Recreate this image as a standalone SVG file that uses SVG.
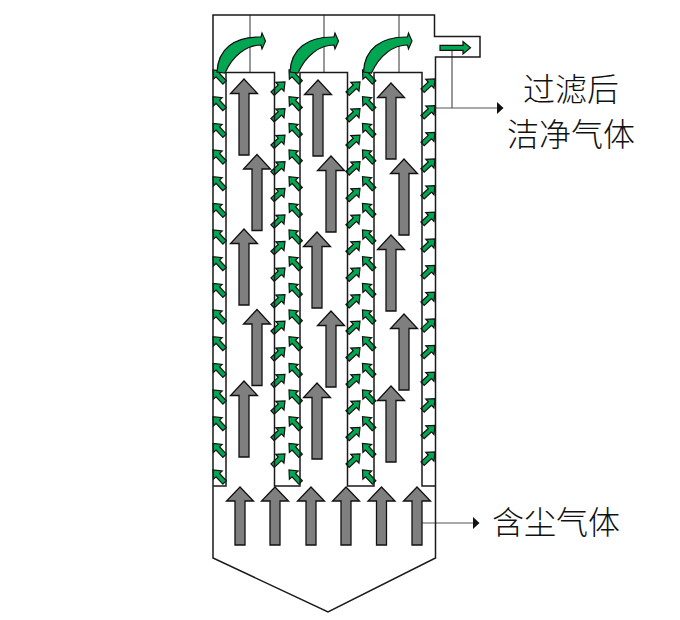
<svg xmlns="http://www.w3.org/2000/svg" xmlns:xlink="http://www.w3.org/1999/xlink" width="680" height="620" viewBox="0 0 680 620">
<style>
.wall{fill:none;stroke:#1a1a1a;stroke-width:1.5}
.thin{fill:none;stroke:#555;stroke-width:1.2}
.gray{fill:#7f7f7f;stroke:#111;stroke-width:1.3;stroke-linejoin:miter}
.green{fill:#00a651;stroke:#111;stroke-width:1.2;stroke-linejoin:miter}
.lbl{font-family:"Noto Sans CJK SC",sans-serif;font-size:32px;font-weight:300;fill:#111}
</style>
<defs>
<polygon id="up" class="gray" points="0,0 13.5,14.5 5,14.5 5,76 -5,76 -5,14.5 -13.5,14.5"/>
<polygon id="in" class="gray" points="0,0 13.5,14 5,14 5,58 -5,58 -5,14 -13.5,14"/>
<polygon id="g" class="green" points="0,-2.4 10,-2.4 10,-6 17,0 10,6 10,2.4 0,2.4"/>
<use id="ul" href="#g" transform="rotate(-133) translate(-17,0)"/>
<use id="ur" href="#g" transform="rotate(-43) translate(-17,0)"/>
<path id="curve" class="green" d="M217,72C218,49 234,36.500 261,37L262,33L265.500,41L262,49L261,45C247,45 233,55 225,73Z"/>
<marker id="tri" markerWidth="8" markerHeight="12" refX="0" refY="6" orient="auto" markerUnits="userSpaceOnUse"><polygon points="0,0 6.500,6 0,12" fill="#111"/></marker>
</defs>
<g id="connectors">
<path class="thin" d="M250,15V72M324,15V72M399,15V72"/>
<path class="thin" d="M452,48V108M435,108H497" marker-end="url(#tri)"/>
<path class="thin" d="M422,523H473" marker-end="url(#tri)"/>
</g>
<g id="small-green-arrows">
<use href="#ul" x="213" y="70"/><use href="#ul" x="213" y="96.700"/><use href="#ul" x="213" y="123.300"/><use href="#ul" x="213" y="150"/><use href="#ul" x="213" y="176.700"/><use href="#ul" x="213" y="203.300"/><use href="#ul" x="213" y="230"/><use href="#ul" x="213" y="256.700"/><use href="#ul" x="213" y="283.300"/><use href="#ul" x="213" y="310"/><use href="#ul" x="213" y="336.700"/><use href="#ul" x="213" y="363.300"/><use href="#ul" x="213" y="390"/><use href="#ul" x="213" y="416.700"/><use href="#ul" x="213" y="443.300"/><use href="#ul" x="213" y="470"/>
<use href="#ul" x="289" y="70"/><use href="#ul" x="289" y="96.700"/><use href="#ul" x="289" y="123.300"/><use href="#ul" x="289" y="150"/><use href="#ul" x="289" y="176.700"/><use href="#ul" x="289" y="203.300"/><use href="#ul" x="289" y="230"/><use href="#ul" x="289" y="256.700"/><use href="#ul" x="289" y="283.300"/><use href="#ul" x="289" y="310"/><use href="#ul" x="289" y="336.700"/><use href="#ul" x="289" y="363.300"/><use href="#ul" x="289" y="390"/><use href="#ul" x="289" y="416.700"/><use href="#ul" x="289" y="443.300"/><use href="#ul" x="289" y="470"/>
<use href="#ul" x="362.500" y="70"/><use href="#ul" x="362.500" y="96.700"/><use href="#ul" x="362.500" y="123.300"/><use href="#ul" x="362.500" y="150"/><use href="#ul" x="362.500" y="176.700"/><use href="#ul" x="362.500" y="203.300"/><use href="#ul" x="362.500" y="230"/><use href="#ul" x="362.500" y="256.700"/><use href="#ul" x="362.500" y="283.300"/><use href="#ul" x="362.500" y="310"/><use href="#ul" x="362.500" y="336.700"/><use href="#ul" x="362.500" y="363.300"/><use href="#ul" x="362.500" y="390"/><use href="#ul" x="362.500" y="416.700"/><use href="#ul" x="362.500" y="443.300"/><use href="#ul" x="362.500" y="470"/>
<use href="#ur" x="285" y="82"/><use href="#ur" x="285" y="108.600"/><use href="#ur" x="285" y="135.100"/><use href="#ur" x="285" y="161.700"/><use href="#ur" x="285" y="188.300"/><use href="#ur" x="285" y="214.900"/><use href="#ur" x="285" y="241.400"/><use href="#ur" x="285" y="268"/><use href="#ur" x="285" y="294.600"/><use href="#ur" x="285" y="321.100"/><use href="#ur" x="285" y="347.700"/><use href="#ur" x="285" y="374.300"/><use href="#ur" x="285" y="400.900"/><use href="#ur" x="285" y="427.400"/><use href="#ur" x="285" y="454"/>
<use href="#ur" x="360" y="82"/><use href="#ur" x="360" y="108.600"/><use href="#ur" x="360" y="135.100"/><use href="#ur" x="360" y="161.700"/><use href="#ur" x="360" y="188.300"/><use href="#ur" x="360" y="214.900"/><use href="#ur" x="360" y="241.400"/><use href="#ur" x="360" y="268"/><use href="#ur" x="360" y="294.600"/><use href="#ur" x="360" y="321.100"/><use href="#ur" x="360" y="347.700"/><use href="#ur" x="360" y="374.300"/><use href="#ur" x="360" y="400.900"/><use href="#ur" x="360" y="427.400"/><use href="#ur" x="360" y="454"/>
<use href="#ur" x="435" y="79"/><use href="#ur" x="435" y="105.600"/><use href="#ur" x="435" y="132.300"/><use href="#ur" x="435" y="158.900"/><use href="#ur" x="435" y="185.600"/><use href="#ur" x="435" y="212.200"/><use href="#ur" x="435" y="238.900"/><use href="#ur" x="435" y="265.500"/><use href="#ur" x="435" y="292.100"/><use href="#ur" x="435" y="318.800"/><use href="#ur" x="435" y="345.400"/><use href="#ur" x="435" y="372.100"/><use href="#ur" x="435" y="398.700"/><use href="#ur" x="435" y="425.400"/><use href="#ur" x="435" y="452"/>
</g>
<g id="vessel">
<path class="wall" d="M213,15H434.500V36.500H480V57H435.500V558L328,612L213,558Z"/>
<path class="wall" d="M213,486H226V72.500H274.500V486H300V72.500H347.500V486H374V72.500H422V486H435.500"/>
</g>
<g id="big-gray-arrows">
<use href="#up" x="244" y="79"/><use href="#up" x="257" y="154.500"/><use href="#up" x="244" y="229"/><use href="#up" x="257" y="309.500"/><use href="#up" x="244" y="381"/>
<use href="#up" x="318" y="80"/><use href="#up" x="331" y="156"/><use href="#up" x="317" y="232"/><use href="#up" x="331" y="311"/><use href="#up" x="317" y="383"/>
<use href="#up" x="391" y="83"/><use href="#up" x="404" y="159"/><use href="#up" x="391" y="235"/><use href="#up" x="404" y="314"/><use href="#up" x="391" y="386"/>
<use href="#in" x="240" y="487"/><use href="#in" x="275" y="487"/><use href="#in" x="311" y="487"/><use href="#in" x="346" y="487"/><use href="#in" x="381.500" y="487"/><use href="#in" x="417" y="487"/>
</g>
<g id="curved-arrows">
<use href="#curve"/><use href="#curve" x="73"/><use href="#curve" x="146.500"/>
<polygon class="green" points="440,45.300 463,45.300 463,41.500 470.500,47.800 463,54 463,50.300 440,50.300"/>
</g>
<g id="labels">
<text class="lbl" x="523" y="101">过滤后</text>
<text class="lbl" x="507" y="146">洁净气体</text>
<text class="lbl" x="492" y="534">含尘气体</text>
</g>
</svg>
